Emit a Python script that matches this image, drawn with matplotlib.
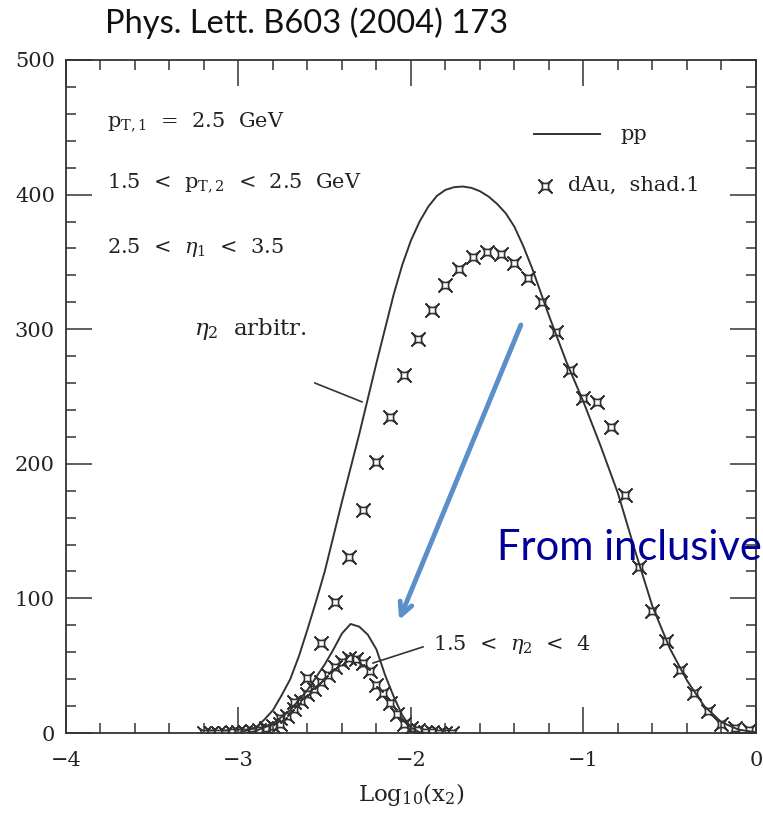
import matplotlib
matplotlib.use("Agg")
import matplotlib.pyplot as plt
from matplotlib.path import Path
import numpy as np

# ---------------- data ----------------
# pp, eta2 arbitrary (solid line)
pp_full_x = [-3.0, -2.9, -2.85, -2.8, -2.75, -2.7, -2.65, -2.6, -2.55, -2.5, -2.45,
             -2.4, -2.3, -2.2, -2.1, -2.05, -2.0,
             -1.95, -1.9, -1.85, -1.8, -1.75, -1.7, -1.65, -1.6, -1.55, -1.5,
             -1.45, -1.4, -1.35, -1.3, -1.2, -1.1, -1.0, -0.9, -0.8, -0.7, -0.6,
             -0.5, -0.4, -0.3, -0.2, -0.1, 0.0]
pp_full_y = [0, 4, 10, 17, 28, 40, 57, 77, 98, 120, 146,
             172, 222, 275, 326, 348, 366,
             380, 391, 399, 403.5, 405.5, 406, 405, 402.5, 398.5, 393,
             386, 376, 362, 346, 310, 276, 246, 213, 178, 135, 94,
             63, 39, 20, 8, 2.5, 0.5]

# dAu shad.1, eta2 arbitrary (markers)
dau_full_x = [-3.16, -3.08, -3.00, -2.92, -2.84, -2.76, -2.68, -2.60, -2.52,
              -2.44, -2.36, -2.28, -2.20, -2.12, -2.04, -1.96, -1.88, -1.80,
              -1.72, -1.64, -1.56, -1.48, -1.40, -1.32, -1.24, -1.16, -1.08,
              -1.00, -0.92, -0.84, -0.76, -0.68, -0.60, -0.52, -0.44, -0.36,
              -0.28, -0.20, -0.12, -0.04]
dau_full_y = [0, 0.3, 0.6, 1.5, 4, 11, 23, 41, 67,
              97, 131, 166, 201, 235, 266, 293, 314, 333,
              345, 354, 357, 356, 349, 338, 320, 298, 270,
              249, 246, 227, 177, 123, 91, 68, 47, 30,
              16, 7, 4, 2]

# pp, 1.5 < eta2 < 4 (solid line)
pp_cut_x = [-2.95, -2.9, -2.8, -2.7, -2.6, -2.5, -2.45, -2.4, -2.35, -2.3,
            -2.25, -2.2, -2.15, -2.1, -2.05, -2.0, -1.95, -1.9]
pp_cut_y = [0, 1.5, 7, 17, 32, 51, 62, 74, 81, 79,
            73, 62, 43, 27, 13, 4, 0.5, 0]

# dAu shad.1, 1.5 < eta2 < 4 (markers)
dau_cut_x = [-3.20, -3.16, -3.12, -3.08, -3.04, -3.00, -2.96, -2.92, -2.88,
             -2.84, -2.80, -2.76, -2.72, -2.68, -2.64, -2.60, -2.56, -2.52,
             -2.48, -2.44, -2.40, -2.36, -2.32, -2.28, -2.24, -2.20, -2.16,
             -2.12, -2.08, -2.04, -2.00, -1.96, -1.92, -1.88, -1.84, -1.80, -1.76]
dau_cut_y = [0.2, 0.2, 0.3, 0.3, 0.4, 0.5, 0.8, 1.2, 2,
             3, 5, 7, 13, 18, 24, 29, 33, 38,
             43, 49, 53, 56, 55, 52, 46, 36, 30,
             22, 14, 7, 4, 2, 1, 0.5, 0.3, 0.2, 0.1]

x_ticks = [-4, -3, -2, -1, 0]
x_tick_labels = ["\u22124", "\u22123", "\u22122", "\u22121", "0"]
y_ticks = [0, 100, 200, 300, 400, 500]

# ---------------- style ----------------
plt.rcParams['mathtext.fontset'] = 'dejavuserif'
SERIF = 'DejaVu Serif'
INK = '#333333'

# concave-square (astroid-like) marker
c = -0.15
verts = [(1, 1), (0, c), (-1, 1), (-c, 0), (-1, -1), (0, -c), (1, -1), (c, 0), (1, 1), (1, 1)]
codes = [Path.MOVETO, Path.CURVE3, Path.CURVE3, Path.CURVE3, Path.CURVE3,
         Path.CURVE3, Path.CURVE3, Path.CURVE3, Path.CURVE3, Path.CLOSEPOLY]
star = Path(verts, codes)

fig = plt.figure(figsize=(7.63, 8.16), dpi=100)
ax = fig.add_axes([0.0865, 0.1017, 0.9043, 0.8248])

ax.plot(pp_full_x, pp_full_y, color=INK, lw=1.4, zorder=3)
ax.plot(pp_cut_x, pp_cut_y, color=INK, lw=1.4, zorder=3)
mk = dict(linestyle='none', marker=star, markersize=9.5, markerfacecolor='none',
          markeredgecolor=INK, markeredgewidth=1.2, zorder=4)
ax.plot(dau_full_x, dau_full_y, **mk)
ax.plot(dau_cut_x, dau_cut_y, **mk)

ax.set_xlim(-4, 0)
ax.set_ylim(0, 500)
ax.set_xticks(x_ticks)
ax.set_xticklabels(x_tick_labels)
ax.set_xticks(np.arange(-4, 0.001, 0.2), minor=True)
ax.set_yticks(y_ticks)
ax.set_yticks(np.arange(0, 501, 20), minor=True)
ax.tick_params(which='both', direction='in', top=True, right=True, color=INK, width=1.1)
ax.tick_params(which='major', length=19)
ax.tick_params(which='minor', length=7.5)
ax.tick_params(axis='x', which='major', pad=13, labelsize=15)
ax.tick_params(axis='y', which='major', pad=8, labelsize=15)
for lab in ax.get_xticklabels() + ax.get_yticklabels():
    lab.set_family(SERIF)
    lab.set_color('#222222')
for s in ax.spines.values():
    s.set_color(INK)
    s.set_linewidth(1.3)

ax.set_xlabel(r"Log$_{10}$(x$_2$)", family=SERIF, fontsize=16.5, labelpad=8, color='#222222')

# annotations inside
tk = dict(family=SERIF, fontsize=15, color='#222222', transform=ax.transAxes, va='center', ha='left')
ax.text(0.059, 0.908, r"p$_{\mathrm{T,1}}$  =  2.5  GeV", **tk)
ax.text(0.059, 0.818, r"1.5  <  p$_{\mathrm{T,2}}$  <  2.5  GeV", **tk)
ax.text(0.059, 0.722, r"2.5  <  $\eta_1$  <  3.5", **tk)
ax.text(0.186, 0.600, r"$\eta_2$  arbitr.", family=SERIF, fontsize=16.5, color='#222222',
        transform=ax.transAxes, va='center', ha='left')
ax.plot([-2.557, -2.284], [260, 246], color=INK, lw=1.2)
ax.text(0.532, 0.131, r"1.5  <  $\eta_2$  <  4", **tk)
ax.plot([-1.93, -2.22], [64, 52], color=INK, lw=1.2)

# legend (manual)
ax.plot([0.678, 0.774], [0.890, 0.890], color=INK, lw=1.4, transform=ax.transAxes)
ax.text(0.803, 0.890, "pp", **tk)
ax.plot([0.694], [0.813], transform=ax.transAxes, **mk)
ax.text(0.727, 0.813, "dAu,  shad.1", **tk)

# overlay: title, arrow, blue text
fig.text(0.137, 0.972, "Phys. Lett. B603 (2004) 173", family='Lato', fontsize=23.5,
         color='#111111', ha='left', va='center')
ax.annotate("", xy=(-2.075, 82), xytext=(-1.357, 305), xycoords='data',
            arrowprops=dict(arrowstyle='->,head_length=0.9,head_width=0.45',
                            color='#5B8FC9', lw=3.5), zorder=6)
fig.text(0.651, 0.329, "From inclusive", family='Lato', fontsize=30,
         color='#000099', ha='left', va='center')

fig.savefig("out.png", dpi=100)
